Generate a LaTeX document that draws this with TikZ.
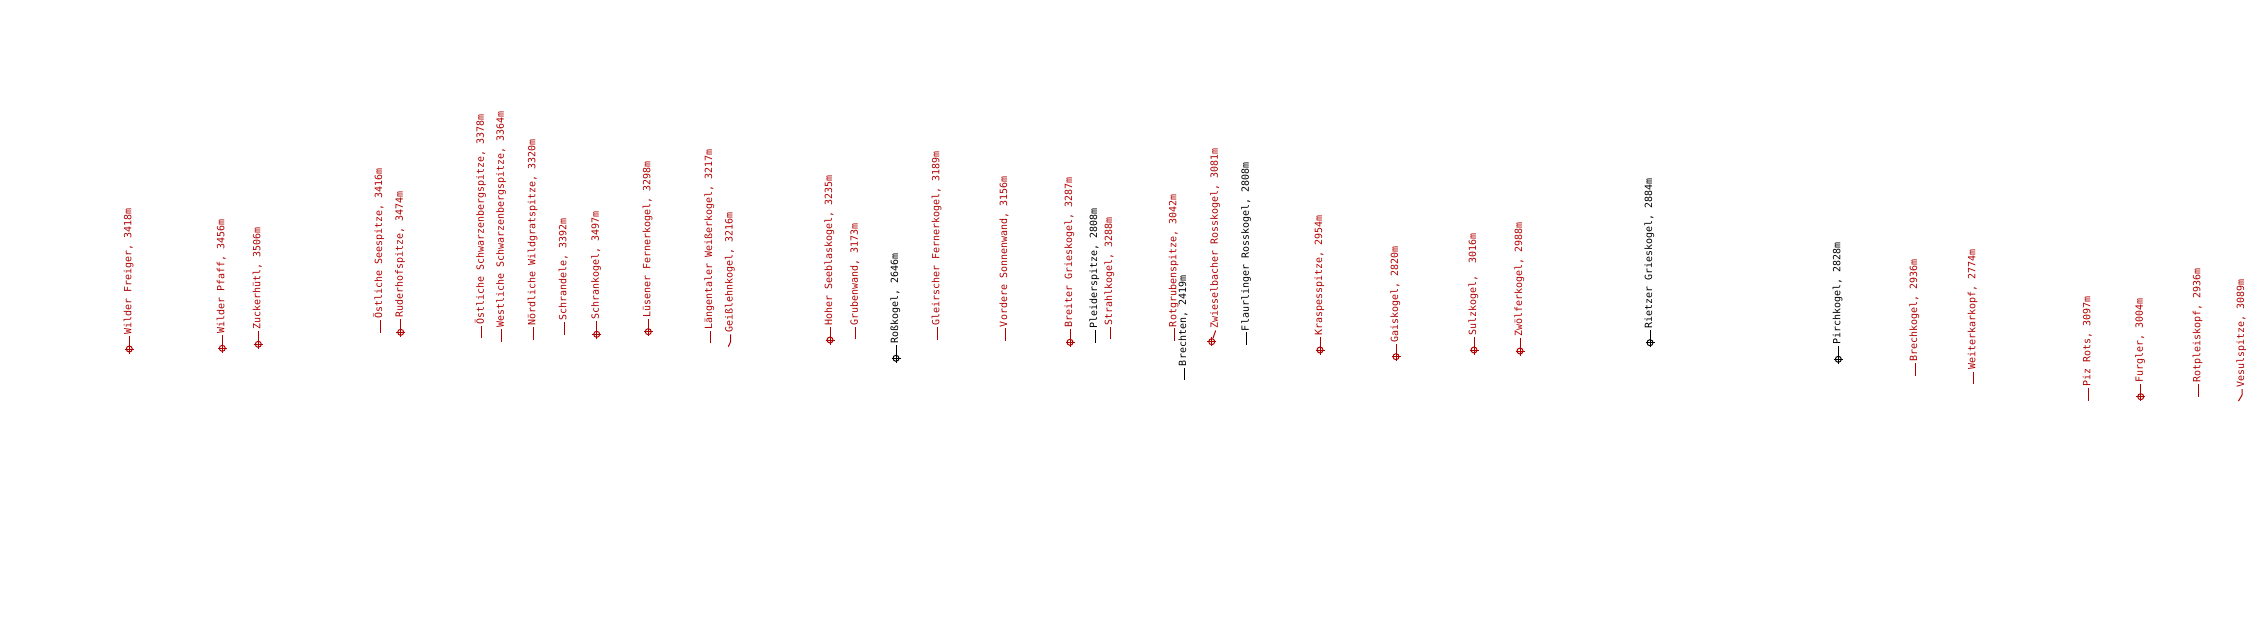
\documentclass[tikz,border=0pt]{standalone}
\usepackage{fontspec}
\setmonofont{DejaVu Sans Mono}
\usepackage{tikz}
\usetikzlibrary{positioning}
\definecolor{peakred}{RGB}{176,0,0}

\begin{document}
\begin{tikzpicture}[x=1pt, y=-1pt]

\tikzset{%
    every peak/.style = {
        circle,
        draw,
        line width=1pt,
        minimum size=6pt,
        inner sep=0pt
    },
    peak label/.style = {
        rotate=90,
        anchor=mid west,
        inner sep=0pt,
        outer sep=1.5pt,
        font=\ttfamily\fontsize{9.97}{12}\selectfont
    },
    leader/.style = {
        line width=1pt
    }
}

\useasboundingbox (0,0) rectangle (2249,620);

% summits with a marker
\foreach \n/\px/\py/\col/\txt in {
    freiger/129.3/349/peakred/{Wilder Freiger, 3418m},
    pfaff/222.3/348.3/peakred/{Wilder Pfaff, 3456m},
    zuckerhuetl/258.3/344.3/peakred/{Zuckerhütl, 3506m},
    ruderhof/400.7/332.3/peakred/{Ruderhofspitze, 3474m},
    schrankogel/596.7/334.3/peakred/{Schrankogel, 3497m},
    luesener/648.3/331.7/peakred/{Lüsener Fernerkogel, 3298m},
    seeblas/830/340/peakred/{Hoher Seeblaskogel, 3235m},
    rosskogel/896/358.3/black/{Roßkogel, 2646m},
    breitergk/1070/342.3/peakred/{Breiter Grieskogel, 3287m},
    kraspes/1320/350/peakred/{Kraspesspitze, 2954m},
    gaiskogel/1396/356.7/peakred/{Gaiskogel, 2820m},
    sulzkogel/1474/350/peakred/{Sulzkogel,\ \ 3016m},
    zwoelfer/1520/351/peakred/{Zwölferkogel, 2988m},
    rietzer/1650/342.7/black/{Rietzer Grieskogel, 2884m},
    pirchkogel/1838.3/359.3/black/{Pirchkogel, 2828m},
    furgler/2140.7/396.7/peakred/{Furgler, 3004m}}
{
  \node [every peak, \col] (p-\n) at (\px,\py) {};
  \draw [\col, line width=0.9pt] (p-\n.center) ++(-4.5,0) -- ++(9,0);
  \draw [\col, line width=0.9pt] (p-\n.center) ++(0,-4.5) -- ++(0,9);
  \node [peak label, text=\col] (l-\n) at (\px,\py-13) {\txt};
  \draw [leader, \col] (p-\n) -- (l-\n.mid west);
}

% summits with a plain tick
\foreach \n/\px/\py/\col/\txt in {
    oseespitze/380/332.7/peakred/{Östliche Seespitze, 3416m},
    oschwarzenberg/481.7/338.3/peakred/{Östliche Schwarzenbergspitze, 3378m},
    wschwarzenberg/501.7/341.7/peakred/{Westliche Schwarzenbergspitze, 3364m},
    wildgrat/533.3/340/peakred/{Nördliche Wildgratspitze, 3320m},
    schrandele/564.3/335/peakred/{Schrandele, 3392m},
    weisserkogel/710/343.3/peakred/{Längentaler Weißerkogel, 3217m},
    grubenwand/855.7/339.3/peakred/{Grubenwand, 3173m},
    gleirscher/937.3/340/peakred/{Gleirscher Fernerkogel, 3189m},
    sonnenwand/1005/341/peakred/{Vordere Sonnenwand, 3156m},
    pleiderspitze/1095/342.7/black/{Pleiderspitze, 2808m},
    strahlkogel/1110/339.3/peakred/{Strahlkogel, 3288m},
    rotgruben/1174.3/341/peakred/{Rotgrubenspitze, 3042m},
    brechten/1184/380/black/{Brechten, 2419m},
    flaurlinger/1246.7/345/black/{Flaurlinger Rosskogel, 2808m},
    brechkogel/1915/375.7/peakred/{Brechkogel, 2936m},
    weiterkar/1973.3/384/peakred/{Weiterkarkopf, 2774m},
    pizrots/2088.3/400.7/peakred/{Piz Rots, 3097m},
    rotpleis/2198.3/396.7/peakred/{Rotpleiskopf, 2936m}}
{
  \coordinate (p-\n) at (\px,\py);
  \node [peak label, text=\col] (l-\n) at (\px,\py-12.5) {\txt};
  \draw [leader, \col] (p-\n) -- (l-\n.mid west);
}

% summits with a bent leader
\coordinate (p-geisslehn) at (728.3,346.7);
\coordinate (b-geisslehn) at (730.5,342);
\node [peak label, text=peakred] (l-geisslehn) at (730.5,334.5) {Geißlehnkogel, 3216m};
\draw [leader, peakred] (p-geisslehn) -- (b-geisslehn) -- (l-geisslehn.mid west);

\node [every peak, peakred] (p-zwieselbach) at (1211.7,341.7) {};
\draw [peakred, line width=0.9pt] (p-zwieselbach.center) ++(-4.5,0) -- ++(9,0);
\draw [peakred, line width=0.9pt] (p-zwieselbach.center) ++(0,-4.5) -- ++(0,9);
\node [peak label, text=peakred] (l-zwieselbach) at (1215.7,330.5) {Zwieselbacher Rosskogel, 3081m};
\draw [leader, peakred] (p-zwieselbach) -- (l-zwieselbach.mid west);

\coordinate (p-vesul) at (2238.5,401);
\coordinate (b-vesul) at (2242,395);
\node [peak label, text=peakred] (l-vesul) at (2242,389) {Vesulspitze, 3089m};
\draw [leader, peakred] (p-vesul) -- (b-vesul) -- (l-vesul.mid west);

\end{tikzpicture}
\end{document}
